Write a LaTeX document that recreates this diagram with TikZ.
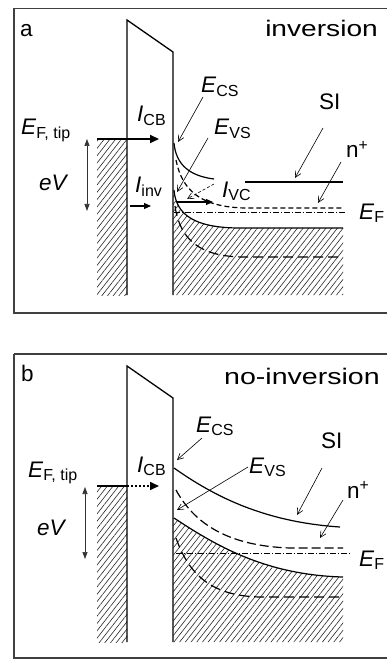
\documentclass[tikz,border=0pt]{standalone}
\usepackage{fontspec}
\setmainfont{Liberation Sans}
\usetikzlibrary{arrows.meta,patterns.meta}
\newcommand\mylbl[2]{\textit{#1}\raisebox{-0.32ex}{\fontsize{16}{16}\selectfont #2}}
\begin{document}
\begin{tikzpicture}[x=1pt,y=-1pt,
  txt/.style={inner sep=0pt,anchor=base west,font=\fontsize{22.5}{26}\selectfont},
  frame/.style={draw=black!75,line width=1.3pt},
  wall/.style={line width=1.3pt,line join=miter},
  band/.style={line width=1.2pt},
  dband/.style={line width=1.2pt,dash pattern=on 8pt off 4pt},
  efline/.style={line width=0.6pt,dash pattern=on 6pt off 2pt on 1pt off 2pt},
  hatch/.style={pattern={Lines[angle=52,distance=4.5pt,line width=0.6pt]},pattern color=black!85},
  lblarrow/.style={line width=0.6pt,-{Straight Barb[length=6pt,width=6pt]}},
  evarrow/.style={line width=0.7pt,draw=black!80,{Triangle[length=7pt,width=5pt]}-{Triangle[length=7pt,width=5pt]}},
  bigarrow/.style={line width=1.8pt,-{Triangle[length=9pt,width=8pt]}},
  smallarrow/.style={line width=1.1pt,-{Triangle[length=7pt,width=6pt]}}]
\useasboundingbox (0,0) rectangle (386,660);
% ================= panel a =================
\draw[frame] (14,8.5) -- (387,8.5) (14,8.5) -- (14,313) -- (387,313);
\node[txt] (la) at (20,37) {a};
\node[txt,anchor=base east] (ta) at (378,37) {\scalebox{1.25}[1]{inversion}};
% tip
\fill[hatch] (97,139) rectangle (127,295);
\coordinate (tipLa) at (97,139);
\coordinate (tipRa) at (127,139);
\draw[line width=1.1pt] (tipLa) -- (tipRa);
% barrier
\draw[wall] (127,295) -- (127,20) -- (173,52) -- (173,295);
% semiconductor hatch
\fill[hatch] (173,190) .. controls (176,215) and (195,228) .. (240,228) -- (343,228) -- (343,295) -- (173,295) -- cycle;
% bands
\draw[band] (174,190) .. controls (176,215) and (195,228) .. (240,228) -- (343,228);
\draw[band] (174,143) .. controls (176,165) and (190,176) .. (214,179);
\draw[band] (245,182) -- (343,182);
\draw[dband,dash pattern=on 5pt off 3pt] (176,160) .. controls (182,190) and (200,207) .. (245,208) -- (343,208);
\draw[dband,dash pattern=on 10pt off 5pt] (175,206) .. controls (180,240) and (200,257) .. (245,257) -- (343,257);
\draw[efline] (174,212) -- (345,212);
% currents
\coordinate (icbEa) at (159,139);
\draw[bigarrow] (tipRa) -- (icbEa);
\node[txt] (icba) at (137,122) {\mylbl{I}{CB}};
\coordinate (iinvS) at (130,206);
\coordinate (iinvE) at (151,206);
\draw[smallarrow] (iinvS) -- (iinvE);
\node[txt] (iinv) at (135,193) {\mylbl{I}{inv}};
\coordinate (ivcS) at (177,202);
\coordinate (ivcE) at (213,202);
\draw[smallarrow] (ivcS) -- (ivcE);
\node[txt] (ivc) at (222,197) {\mylbl{I}{VC}};
\coordinate (ivcdS) at (214,184);
\coordinate (ivcdE) at (187,199);
\draw[lblarrow,dash pattern=on 3pt off 2pt] (ivcdS) -- (ivcdE);
% eV
\coordinate (evTa) at (87,139);
\coordinate (evBa) at (87,211);
\draw[evarrow] (evTa) -- (evBa);
\node[txt] (eva) at (39,190) {\textit{eV}};
\node[txt] (efta) at (21,135) {\mylbl{E}{F, tip}};
% labels with arrows
\node[txt] (ecsa) at (201,93) {\mylbl{E}{CS}};
\coordinate (ecsaS) at (203,97); \coordinate (ecsaE) at (178,142);
\draw[lblarrow] (ecsaS) -- (ecsaE);
\node[txt] (evsa) at (214,135) {\mylbl{E}{VS}};
\coordinate (evsaS) at (208,138); \coordinate (evsaE) at (177,192);
\draw[lblarrow] (evsaS) -- (evsaE);
\node[txt] (sia) at (319,110) {SI};
\coordinate (siaS) at (323,128); \coordinate (siaE) at (295,178);
\draw[lblarrow] (siaS) -- (siaE);
\node[txt] (npa) at (346,158) {n\textsuperscript{+}};
\coordinate (npaS) at (341,162); \coordinate (npaE) at (318,203);
\draw[lblarrow] (npaS) -- (npaE);
\node[txt] (efa) at (359,219) {\mylbl{E}{F}};
% ================= panel b =================
\draw[frame] (14,354) -- (387,354) (14,354) -- (14,658) -- (387,658);
\node[txt] (lb) at (21,381) {b};
\node[txt,anchor=base east] (tb) at (380,384) {\scalebox{1.27}[1]{no-inversion}};
% tip
\fill[hatch] (97,486) rectangle (127,642);
\coordinate (tipLb) at (97,486);
\coordinate (tipRb) at (127,486);
\draw[line width=1.1pt] (tipLb) -- (tipRb);
% barrier
\draw[wall] (127,642) -- (127,366) -- (173,398) -- (173,642);
% hatch
\fill[hatch] (173,518) .. controls (215,545) and (265,575) .. (343,577) -- (343,642) -- (173,642) -- cycle;
% bands
\draw[band] (174,468) .. controls (215,497) and (265,522) .. (340,527);
\draw[dband,dash pattern=on 9pt off 4pt] (176,490) .. controls (195,525) and (230,546) .. (290,548) -- (343,548);
\draw[band] (174,518) .. controls (215,545) and (265,575) .. (343,577);
\draw[dband,dash pattern=on 10pt off 5pt] (176,538) .. controls (190,578) and (215,596) .. (260,597) -- (343,597);
\draw[efline] (176,553) -- (351,553);
% current
\coordinate (icbEb) at (159,486);
\draw[line width=1.6pt,dash pattern=on 2pt off 2pt,-{Triangle[length=9pt,width=8pt]}] (tipRb) -- (icbEb);
\node[txt] (icbb) at (137,472) {\mylbl{I}{CB}};
% eV
\coordinate (evTb) at (85,487);
\coordinate (evBb) at (85,559);
\draw[evarrow] (evTb) -- (evBb);
\node[txt] (evb) at (37,535) {\textit{eV}};
\node[txt] (eftb) at (28,477) {\mylbl{E}{F, tip}};
% labels with arrows
\node[txt] (ecsb) at (196,432) {\mylbl{E}{CS}};
\coordinate (ecsbS) at (202,438); \coordinate (ecsbE) at (177,460);
\draw[lblarrow] (ecsbS) -- (ecsbE);
\node[txt] (evsb) at (249,473) {\mylbl{E}{VS}};
\coordinate (evsbS) at (248,467); \coordinate (evsbE) at (177,510);
\draw[lblarrow] (evsbS) -- (evsbE);
\node[txt] (sib) at (321,448) {SI};
\coordinate (sibS) at (322,468); \coordinate (sibE) at (297,515);
\draw[lblarrow] (sibS) -- (sibE);
\node[txt] (npb) at (347,498) {n\textsuperscript{+}};
\coordinate (npbS) at (343,500); \coordinate (npbE) at (320,538);
\draw[lblarrow] (npbS) -- (npbE);
\node[txt] (efb) at (359,566) {\mylbl{E}{F}};
\end{tikzpicture}
\end{document}
